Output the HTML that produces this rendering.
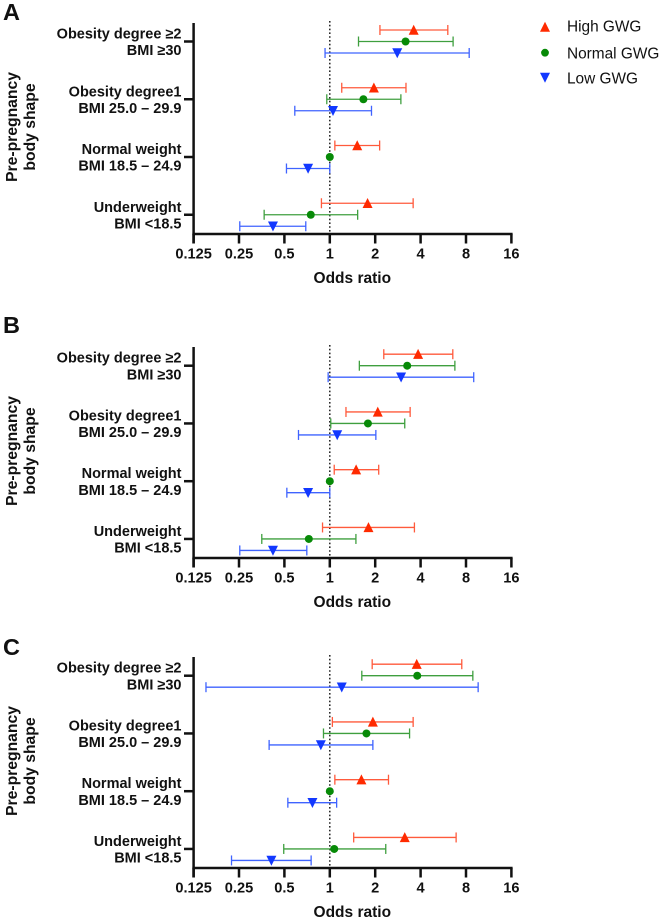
<!DOCTYPE html>
<html lang="en">
<head>
<meta charset="utf-8">
<title>Odds ratio forest plots by pre-pregnancy body shape</title>
<style>
html,body{margin:0;padding:0;background:#fff;width:661px;height:920px;overflow:hidden}
svg{display:block}
text{font-family:"Liberation Sans",Arial,sans-serif;fill:#111}
.b{font-weight:700}
</style>
</head>
<body>
<svg id="chart" width="661" height="920" viewBox="0 0 661 920" xmlns="http://www.w3.org/2000/svg">
  <g>
    <g>
      <polygon points="545,21.700 550,31.700 540,31.700" fill="#ff2a00"/>
      <text x="567" y="31.500" font-size="15.400">High GWG</text>
    </g>
    <g>
      <circle cx="545" cy="52.700" r="3.900" fill="#078a07"/>
      <text x="567" y="58.300" font-size="15.400">Normal GWG</text>
    </g>
    <g>
      <polygon points="540,72.700 550,72.700 545,82.700" fill="#1238ff"/>
      <text x="567" y="83.300" font-size="15.400">Low GWG</text>
    </g>
  </g>
</svg>
<script>
// Categories and axis labels
const categoryLine1 = ['Obesity degree ≥2', 'Obesity degree1', 'Normal weight', 'Underweight'];
const categoryLine2 = ['BMI ≥30', 'BMI 25.0 – 29.9', 'BMI 18.5 – 24.9', 'BMI <18.5'];
const xTickValues = [0.125, 0.25, 0.5, 1, 2, 4, 8, 16];
const xTickLabels = ['0.125', '0.25', '0.5', '1', '2', '4', '8', '16'];
const seriesNames = ['High GWG', 'Normal GWG', 'Low GWG'];
const panelLetters = ['A', 'B', 'C'];

// Panel A: odds ratio and CI per category
const panelAHighOR = [3.6, 1.96, 1.52, 1.78];
const panelAHighLo = [2.15, 1.2, 1.08, 0.88];
const panelAHighHi = [6.06, 3.2, 2.14, 3.57];
const panelANormalOR = [3.18, 1.67, 1, 0.748];
const panelANormalLo = [1.55, 0.955, 1, 0.367];
const panelANormalHi = [6.57, 2.96, 1, 1.53];
const panelALowOR = [2.8, 1.05, 0.718, 0.42];
const panelALowLo = [0.93, 0.586, 0.516, 0.253];
const panelALowHi = [8.4, 1.89, 1, 0.693];

// Panel B
const panelBHighOR = [3.85, 2.08, 1.495, 1.805];
const panelBHighLo = [2.28, 1.28, 1.07, 0.895];
const panelBHighHi = [6.54, 3.41, 2.11, 3.64];
const panelBNormalOR = [3.26, 1.79, 1, 0.726];
const panelBNormalLo = [1.57, 1.015, 1, 0.354];
const panelBNormalHi = [6.75, 3.14, 1, 1.49];
const panelBLowOR = [2.97, 1.12, 0.718, 0.42];
const panelBLowLo = [0.975, 0.62, 0.519, 0.253];
const panelBLowHi = [9.0, 2.02, 1, 0.704];

// Panel C
const panelCHighOR = [3.77, 1.93, 1.62, 3.14];
const panelCHighLo = [1.91, 1.04, 1.08, 1.44];
const panelCHighHi = [7.5, 3.57, 2.45, 6.88];
const panelCNormalOR = [3.8, 1.75, 1, 1.07];
const panelCNormalLo = [1.63, 0.908, 1, 0.495];
const panelCNormalHi = [8.88, 3.38, 1, 2.35];
const panelCLowOR = [1.2, 0.872, 0.767, 0.41];
const panelCLowLo = [0.151, 0.396, 0.527, 0.223];
const panelCLowHi = [9.63, 1.93, 1.11, 0.752];

const panels = [
  { letter: panelLetters[0], letterY: 20, top: 23, axisY: 234, tickY: 41.5,
    series: [[panelAHighOR, panelAHighLo, panelAHighHi], [panelANormalOR, panelANormalLo, panelANormalHi], [panelALowOR, panelALowLo, panelALowHi]] },
  { letter: panelLetters[1], letterY: 333, top: 347, axisY: 558, tickY: 365.7,
    series: [[panelBHighOR, panelBHighLo, panelBHighHi], [panelBNormalOR, panelBNormalLo, panelBNormalHi], [panelBLowOR, panelBLowLo, panelBLowHi]] },
  { letter: panelLetters[2], letterY: 655, top: 657, axisY: 868, tickY: 675.7,
    series: [[panelCHighOR, panelCHighLo, panelCHighHi], [panelCNormalOR, panelCNormalLo, panelCNormalHi], [panelCLowOR, panelCLowLo, panelCLowHi]] }
];

const NS = 'http://www.w3.org/2000/svg';
const root = document.getElementById('chart');
const colors = ['#ff2a00', '#078a07', '#1238ff'];
const barColors = ['#ff5a3c', '#3f9f3f', '#3f63ff'];
const slugs = ['high-gwg', 'normal-gwg', 'low-gwg'];

function make(tag, parent, props, txt) {
  const el = document.createElementNS(NS, tag);
  for (const k in props) el.setAttribute(k, props[k]);
  if (txt !== undefined) el.textContent = txt;
  parent.appendChild(el);
  return el;
}
// Log2 x axis: 0.125 sits at x=193.600, 16 sits at x=511.400
function xScale(v) { return 193.6 + (Math.log2(v) - Math.log2(0.125)) * (317.8 / 7); }
function catY(panel, i) { return panel.tickY + i * 57.75; }

panels.forEach(function (p, pi) {
  const g = make('g', root, {});
  
  

  const letter = make('text', g, { x: 3, y: p.letterY, 'font-size': 23.5, class: 'b' }, p.letter);
  
  

  // Reference line
  const ref = make('line', g, { x1: xScale(1), x2: xScale(1), y1: p.top - 2, y2: p.axisY, stroke: '#111', 'stroke-width': 1.4, 'stroke-dasharray': '1.6 2.2' });
  
  

  // Axes
  const yAxis = make('line', g, { x1: 193.6, x2: 193.6, y1: p.top, y2: p.axisY + 9.5, stroke: '#111', 'stroke-width': 2.5 });
  
  
  const xAxis = make('line', g, { x1: 192.4, x2: xScale(16) + 1.2, y1: p.axisY, y2: p.axisY, stroke: '#111', 'stroke-width': 2.5 });
  
  

  xTickValues.forEach(function (v, i) {
    const t = make('line', g, { x1: xScale(v), x2: xScale(v), y1: p.axisY, y2: p.axisY + 9.5, stroke: '#111', 'stroke-width': 2.5 });
    
    
    const l = make('text', g, { x: xScale(v), y: p.axisY + 24.5, 'font-size': 14.6, 'text-anchor': 'middle', class: 'b' }, xTickLabels[i]);
    
    
  });

  const xTitle = make('text', g, { x: 352.3, y: p.axisY + 49, 'font-size': 15.5, 'text-anchor': 'middle', class: 'b' }, 'Odds ratio');
  
  

  const yTitleCy = p.axisY - 107;
  const yt1 = make('text', g, { transform: 'translate(17,' + yTitleCy + ') rotate(-90)', 'font-size': 15.7, 'text-anchor': 'middle', class: 'b' }, 'Pre-pregnancy');
  
  
  const yt2 = make('text', g, { transform: 'translate(35,' + yTitleCy + ') rotate(-90)', 'font-size': 15.7, 'text-anchor': 'middle', class: 'b' }, 'body shape');
  
  

  categoryLine1.forEach(function (name, i) {
    const y = catY(p, i);
    const t = make('line', g, { x1: 184, x2: 194, y1: y, y2: y, stroke: '#111', 'stroke-width': 2.5 });
    
    
    const a = make('text', g, { x: 181.5, y: y - 3, 'font-size': 14.5, 'text-anchor': 'end', class: 'b' }, name);
    
    
    const b = make('text', g, { x: 181.5, y: y + 13.7, 'font-size': 14.5, 'text-anchor': 'end', class: 'b' }, categoryLine2[i]);
    
    
  });

  p.series.forEach(function (s, si) {
    const sg = make('g', g, {});
    
    
    s[0].forEach(function (or, i) {
      const y = catY(p, i) + (si - 1) * 11.5;
      const x = xScale(or), lo = xScale(s[1][i]), hi = xScale(s[2][i]);
      const gap = Math.abs(s[2][i] - s[1][i]) > 0;
      if (gap) {
        const bar = make('line', sg, { x1: lo, x2: hi, y1: y, y2: y, stroke: barColors[si], 'stroke-width': 1.3 });
        
        
        const c1 = make('line', sg, { x1: lo, x2: lo, y1: y - 5, y2: y + 5, stroke: barColors[si], 'stroke-width': 1.3 });
        
        
        const c2 = make('line', sg, { x1: hi, x2: hi, y1: y - 5, y2: y + 5, stroke: barColors[si], 'stroke-width': 1.3 });
        
        
      }
      let m;
      if (si === 0) {
        m = make('polygon', sg, { points: x + ',' + (y - 5.3) + ' ' + (x + 5) + ',' + (y + 4.7) + ' ' + (x - 5) + ',' + (y + 4.7), fill: colors[si] });
      } else if (si === 1) {
        m = make('circle', sg, { cx: x, cy: y, r: 4, fill: colors[si] });
      } else {
        m = make('polygon', sg, { points: (x - 5) + ',' + (y - 4.7) + ' ' + (x + 5) + ',' + (y - 4.7) + ' ' + x + ',' + (y + 5.3), fill: colors[si] });
      }
      
      
    });
  });
});
</script>
</body>
</html>
